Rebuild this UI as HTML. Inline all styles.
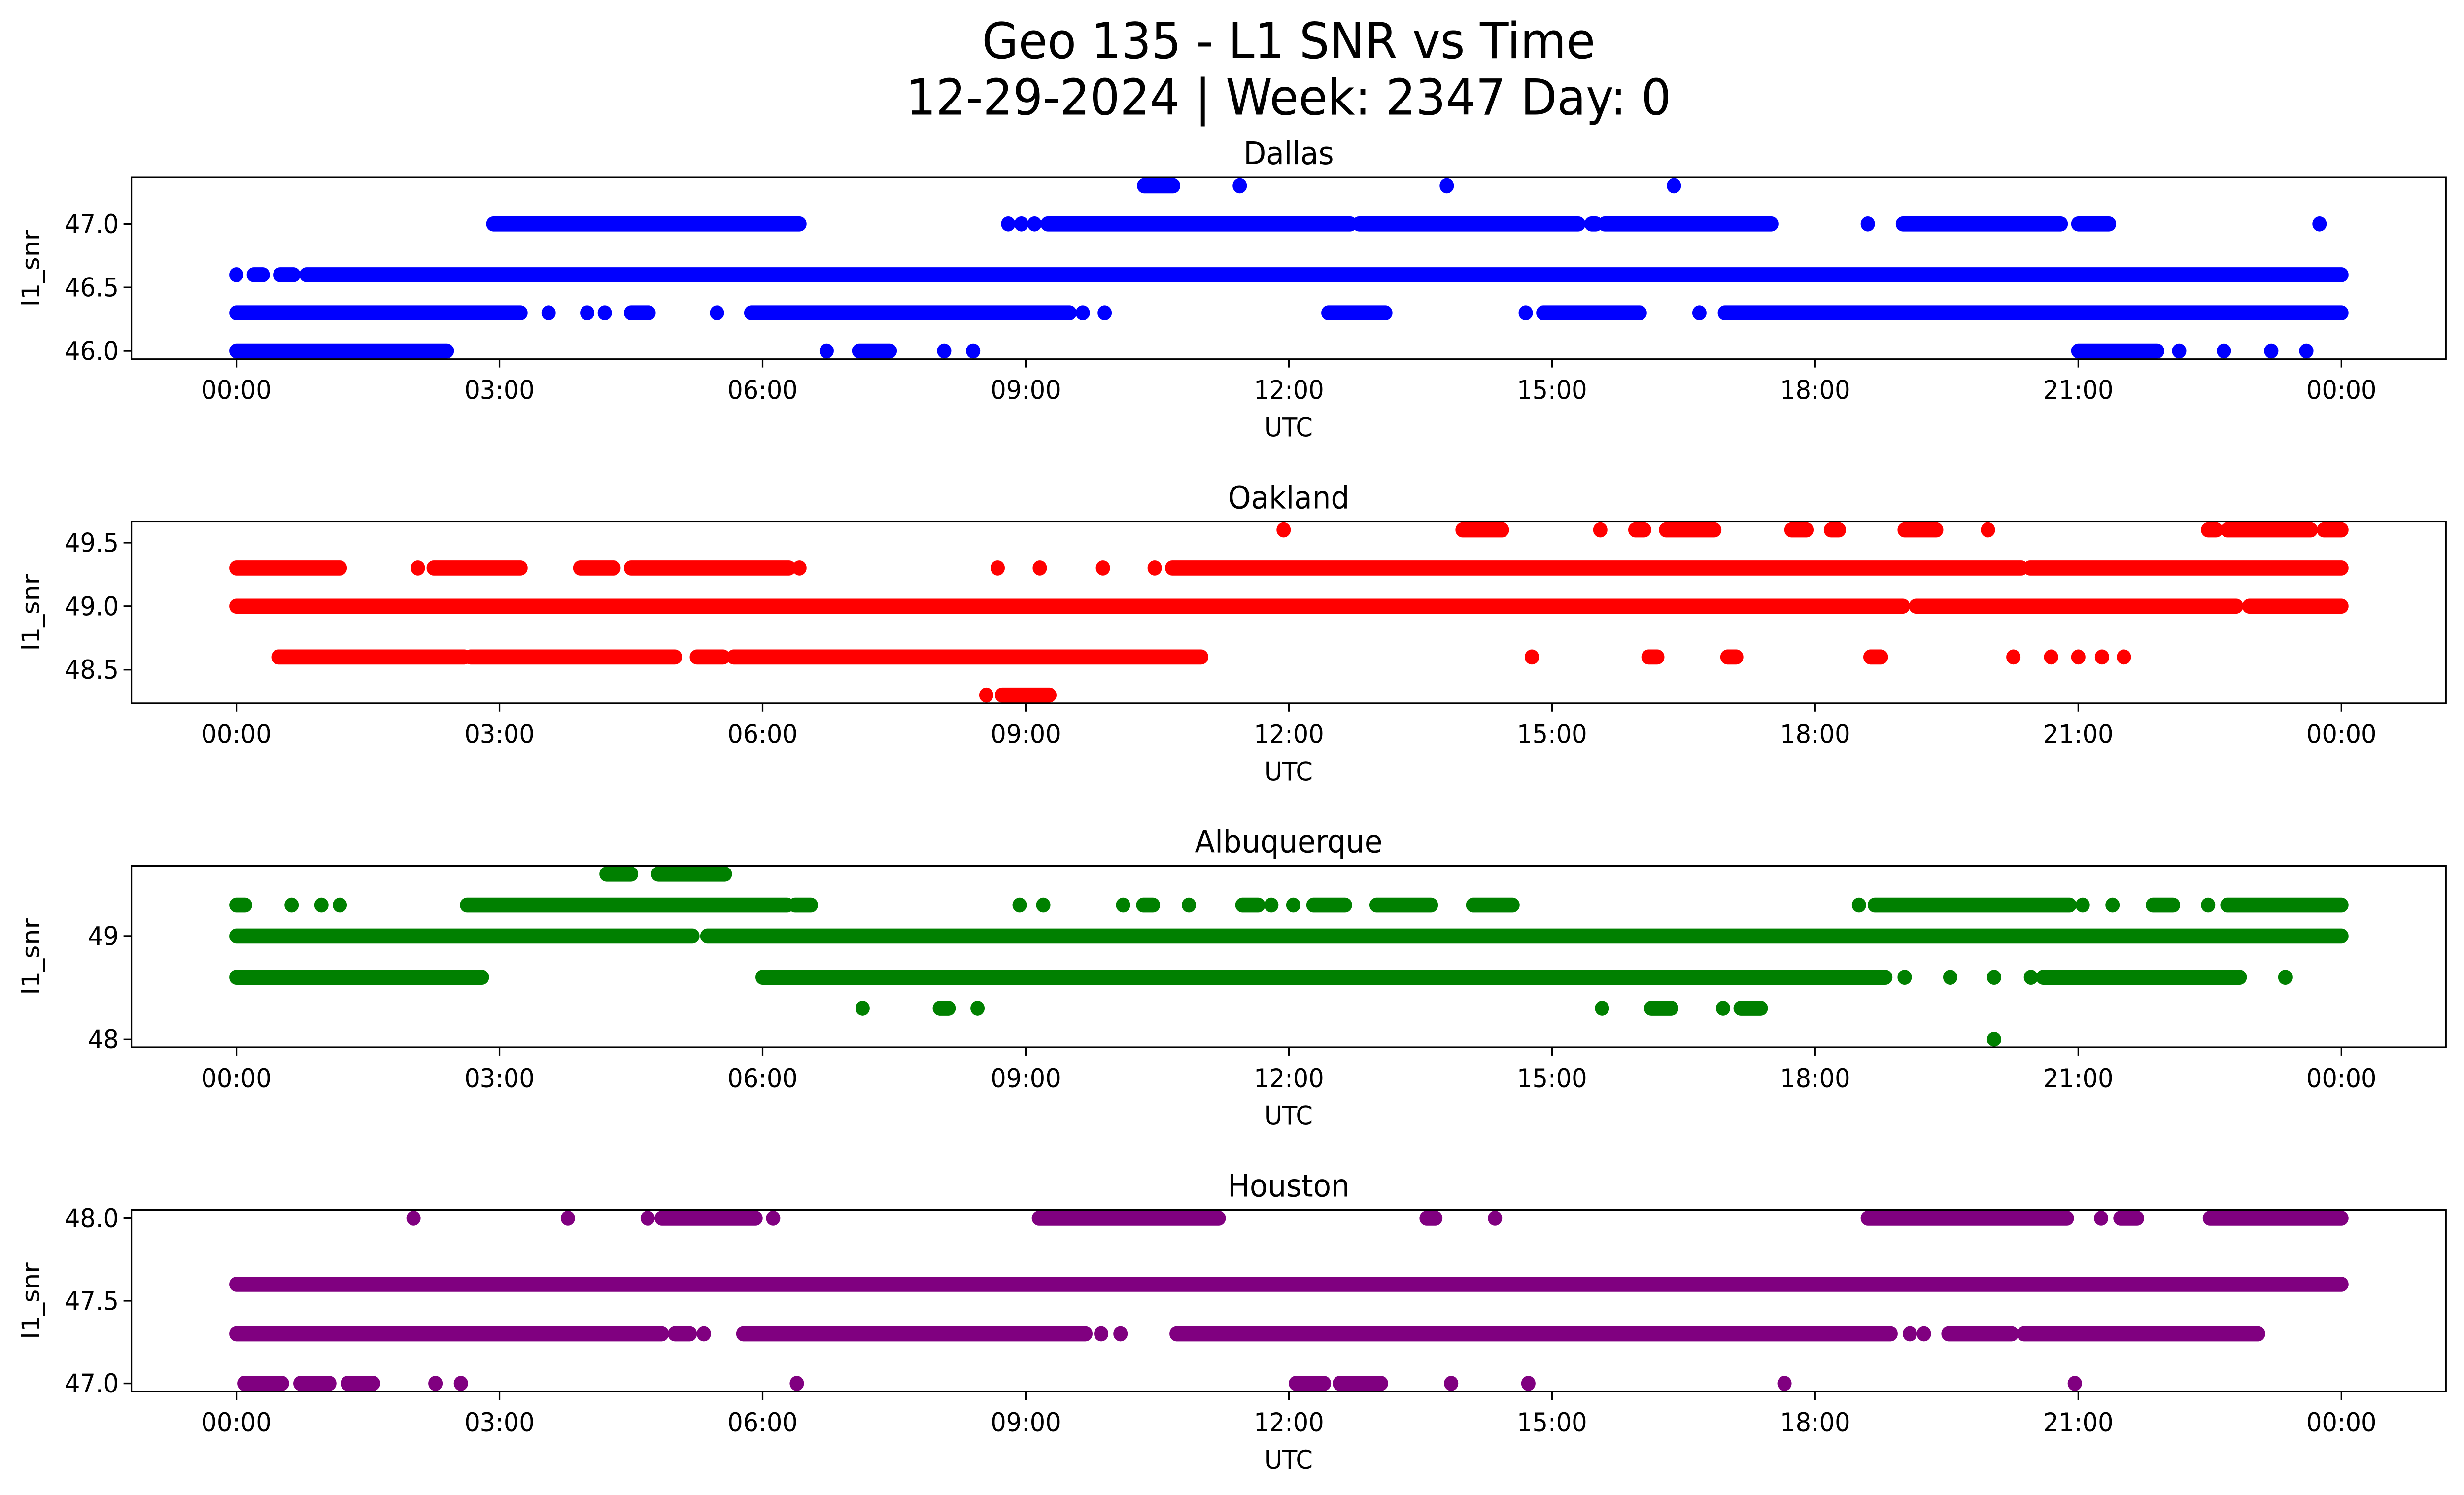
<!DOCTYPE html>
<html><head><meta charset="utf-8"><style>
html,body{margin:0;padding:0;background:#fff;width:100%;height:100%;overflow:hidden;}
svg{display:block;position:absolute;left:0;top:0;width:100vw;height:100vh;font-family:"DejaVu Sans","Liberation Sans",sans-serif;}
</style></head>
<body>
<svg id="fig" xmlns="http://www.w3.org/2000/svg" viewBox="0 0 1568 901" preserveAspectRatio="none">
<g id="root">
<rect x="0" y="0" width="1568" height="901" fill="#fff"/>
<text x="820" y="35" font-size="30" text-anchor="middle">Geo 135 - L1 SNR vs Time</text>
<text x="820" y="69" font-size="30" text-anchor="middle">12-29-2024 | Week: 2347 Day: 0</text>
</g>
</svg>
<script>
// x tick labels (hours)
const xTickHours = [0,3,6,9,12,15,18,21,24];
const xTickLabels = ["00:00","03:00","06:00","09:00","12:00","15:00","18:00","21:00","00:00"];

// Dallas
const dallasLevels = [47.3, 47.0, 46.6, 46.3, 46.0];
const dallasRuns = [
  [[10.35,10.68],[11.44,11.44],[13.8,13.8],[16.39,16.39]],
  [[2.93,6.42],[8.8,8.8],[8.95,8.95],[9.1,9.1],[9.25,12.7],[12.8,15.3],[15.45,15.5],[15.6,17.5],[18.6,18.6],[19.0,20.8],[21.0,21.35],[23.75,23.75]],
  [[0,0],[0.2,0.3],[0.5,0.65],[0.8,24]],
  [[0,3.24],[3.56,3.56],[4.0,4.0],[4.2,4.2],[4.5,4.7],[5.48,5.48],[5.87,9.5],[9.65,9.65],[9.9,9.9],[12.45,13.1],[14.7,14.7],[14.9,16.0],[16.68,16.68],[16.97,24]],
  [[0,2.4],[6.73,6.73],[7.1,7.45],[8.07,8.07],[8.4,8.4],[21.0,21.9],[22.15,22.15],[22.66,22.66],[23.2,23.2],[23.6,23.6]]
];
const dallasTicks = [46.0, 46.5, 47.0];
const dallasTickLabels = ["46.0","46.5","47.0"];

// Oakland
const oaklandLevels = [49.6, 49.3, 49.0, 48.6, 48.3];
const oaklandRuns = [
  [[11.94,11.94],[13.98,14.43],[15.55,15.55],[15.95,16.05],[16.3,16.85],[17.73,17.9],[18.18,18.27],[19.02,19.38],[19.97,19.97],[22.48,22.57],[22.7,23.65],[23.8,24]],
  [[0,1.18],[2.07,2.07],[2.25,3.24],[3.92,4.3],[4.5,6.3],[6.42,6.42],[8.68,8.68],[9.16,9.16],[9.88,9.88],[10.47,10.47],[10.67,20.35],[20.45,24]],
  [[0,19.0],[19.15,22.8],[22.95,24]],
  [[0.48,2.6],[2.67,5.0],[5.25,5.55],[5.67,11.0],[14.77,14.77],[16.1,16.2],[17.0,17.1],[18.63,18.75],[20.26,20.26],[20.69,20.69],[21.0,21.0],[21.27,21.27],[21.52,21.52]],
  [[8.55,8.55],[8.73,9.27]]
];
const oaklandTicks = [48.5, 49.0, 49.5];
const oaklandTickLabels = ["48.5","49.0","49.5"];

// Albuquerque
const albLevels = [49.6, 49.3, 49.0, 48.6, 48.3, 48.0];
const albRuns = [
  [[4.22,4.5],[4.81,5.57]],
  [[0,0.1],[0.63,0.63],[0.97,0.97],[1.18,1.18],[2.63,6.28],[6.37,6.55],[8.93,8.93],[9.2,9.2],[10.11,10.11],[10.34,10.45],[10.86,10.86],[11.47,11.65],[11.8,11.8],[12.05,12.05],[12.28,12.64],[13.0,13.62],[14.1,14.55],[18.5,18.5],[18.68,20.9],[21.05,21.05],[21.39,21.39],[21.85,22.08],[22.48,22.48],[22.7,24]],
  [[0,5.2],[5.37,24]],
  [[0,2.8],[6.0,18.8],[19.02,19.02],[19.54,19.54],[20.04,20.04],[20.46,20.46],[20.6,22.84],[23.36,23.36]],
  [[7.14,7.14],[8.02,8.12],[8.45,8.45],[15.57,15.57],[16.13,16.36],[16.95,16.95],[17.15,17.38]],
  [[20.04,20.04]]
];
const albTicks = [48, 49];
const albTickLabels = ["48","49"];

// Houston
const houLevels = [48.0, 47.6, 47.3, 47.0];
const houRuns = [
  [[2.02,2.02],[3.78,3.78],[4.69,4.69],[4.85,5.92],[6.12,6.12],[9.15,11.2],[13.57,13.67],[14.35,14.35],[18.6,20.87],[21.26,21.26],[21.48,21.67],[22.5,24]],
  [[0,24]],
  [[0,4.85],[5.0,5.17],[5.33,5.33],[5.78,9.68],[9.86,9.86],[10.08,10.08],[10.72,18.86],[19.08,19.08],[19.24,19.24],[19.52,20.24],[20.38,23.05]],
  [[0.09,0.52],[0.73,1.06],[1.27,1.56],[2.27,2.27],[2.56,2.56],[6.39,6.39],[12.08,12.4],[12.58,13.05],[13.85,13.85],[14.73,14.73],[17.65,17.65],[20.96,20.96]]
];
const houTicks = [47.0, 47.5, 48.0];
const houTickLabels = ["47.0","47.5","48.0"];

const NS = "http://www.w3.org/2000/svg";
const svg = document.getElementById('root');
const AX_L = 83.6, AX_R = 1556.5, AX_H = 109.5;
const X0 = 150.4, X24 = 1490;
function xScale(h){ return X0 + (X24 - X0) * h / 24; }
function mk(tag, attrs){ const e = document.createElementNS(NS, tag); for (const k in attrs) e.setAttribute(k, attrs[k]); return e; }

const panels = [
  {name:"dallas", title:"Dallas", color:"#0000ff", levels:dallasLevels, runs:dallasRuns, ticks:dallasTicks, labels:dallasTickLabels},
  {name:"oakland", title:"Oakland", color:"#ff0000", levels:oaklandLevels, runs:oaklandRuns, ticks:oaklandTicks, labels:oaklandTickLabels},
  {name:"albuquerque", title:"Albuquerque", color:"#008000", levels:albLevels, runs:albRuns, ticks:albTicks, labels:albTickLabels},
  {name:"houston", title:"Houston", color:"#800080", levels:houLevels, runs:houRuns, ticks:houTicks, labels:houTickLabels}
];

panels.forEach((p, i) => {
  const top = 107 + i * 207.4, bot = top + AX_H;
  const mn = Math.min(...p.levels), mx = Math.max(...p.levels), r = mx - mn;
  const lo = mn - 0.05 * r, hi = mx + 0.05 * r;
  const yScale = v => bot - (v - lo) / (hi - lo) * AX_H;
  const g = mk('g', {});
  
  
  svg.appendChild(g);

  const t = mk('text', {x: (AX_L + AX_R) / 2, y: top - 8, 'font-size': 18.7, 'text-anchor': 'middle'});
  
  
  t.textContent = p.title; g.appendChild(t);

  const mg = mk('g', {stroke: p.color, fill: p.color, 'stroke-linecap': 'round', 'stroke-width': 9.1});
  
  
  g.appendChild(mg);
  p.levels.forEach((lv, li) => {
    p.runs[li].forEach(run => {
      const y = yScale(lv);
      if (run[0] === run[1]) {
        const c = mk('circle', {cx: xScale(run[0]), cy: y, r: 4.55, stroke: 'none'});
        
        
        mg.appendChild(c);
      } else {
        const l = mk('line', {x1: xScale(run[0]), x2: xScale(run[1]), y1: y, y2: y});
        
        
        mg.appendChild(l);
      }
    });
  });

  const fr = mk('rect', {x: AX_L, y: top, width: AX_R - AX_L, height: AX_H, fill: 'none', stroke: '#000', 'stroke-width': 1});
  
  
  g.appendChild(fr);

  p.ticks.forEach((tv, ti) => {
    const y = yScale(tv);
    const tl = mk('line', {x1: AX_L - 5, x2: AX_L, y1: y, y2: y, stroke: '#000', 'stroke-width': 1});
    
    
    g.appendChild(tl);
    const tx = mk('text', {x: AX_L - 8, y: y + 5.5, 'font-size': 15.5, 'text-anchor': 'end'});
    
    
    tx.textContent = p.labels[ti]; g.appendChild(tx);
  });
  xTickHours.forEach((h, ti) => {
    const x = xScale(h);
    const tl = mk('line', {x1: x, x2: x, y1: bot, y2: bot + 5, stroke: '#000', 'stroke-width': 1});
    
    
    g.appendChild(tl);
    const tx = mk('text', {x: x, y: bot + 24, 'font-size': 15.5, 'text-anchor': 'middle'});
    
    
    tx.textContent = xTickLabels[ti]; g.appendChild(tx);
  });
  const xl = mk('text', {x: (AX_L + AX_R) / 2, y: bot + 46.5, 'font-size': 15.5, 'text-anchor': 'middle'});
  
  
  xl.textContent = 'UTC'; g.appendChild(xl);
  const cy = (top + bot) / 2;
  const yl = mk('text', {x: 0, y: 0, 'font-size': 15.5, 'text-anchor': 'middle', transform: 'translate(25,' + cy + ') rotate(-90)'});
  
  
  yl.textContent = 'l1_snr'; g.appendChild(yl);
});
</script>
</body></html>
